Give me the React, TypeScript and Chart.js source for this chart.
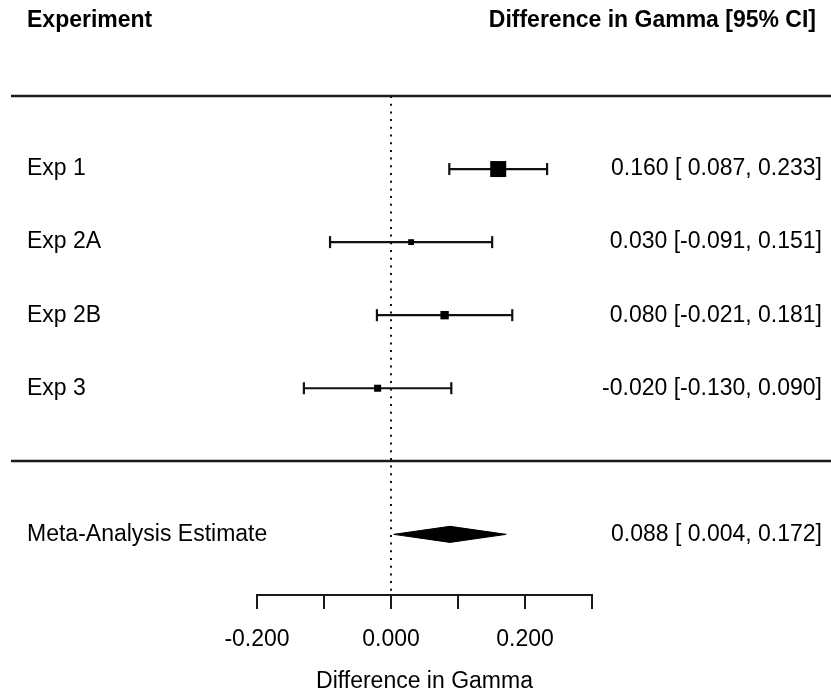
import React, { useEffect, useRef } from "react";
import { Chart, registerables } from "chart.js";

Chart.register(...registerables);

// ---------- data ----------
const STUDIES = ["Exp 1", "Exp 2A", "Exp 2B", "Exp 3"];
const ESTIMATES = [0.16, 0.03, 0.08, -0.02];
const CI_LOWER = [0.087, -0.091, -0.021, -0.13];
const CI_UPPER = [0.233, 0.151, 0.181, 0.09];
const STUDY_ROWS = [1, 2, 3, 4];

const META_LABEL = "Meta-Analysis Estimate";
const META_ESTIMATE = 0.088;
const META_LOWER = 0.004;
const META_UPPER = 0.172;
const META_ROW = 6;

const TICK_VALUES = [-0.2, -0.1, 0, 0.1, 0.2, 0.3];
const TICK_LABELS = ["-0.200", "", "0.000", "", "0.200", ""];
const AXIS_TITLE = "Difference in Gamma";
const HEADER_LEFT = "Experiment";
const HEADER_RIGHT = "Difference in Gamma [95% CI]";
const SEPARATOR_ROWS = [0, 5];

// ---------- style ----------
const FONT = '"Liberation Sans", Arial, Helvetica, sans-serif';
const FONT_SIZE = 23;
const INK = "#000";
const ROW_MAX = 6.83;
const HEADER_ROW = -1.03;
const MAX_SQUARE = 16;
const DIAMOND_HALF = 0.11;
const LEFT_TEXT_X = 27;
const RIGHT_TEXT_X = 822;
const HEADER_RIGHT_X = 816;
const LINE_START_X = 11;

function fmt(v: number) {
  return v.toFixed(3);
}
function fmtPad(v: number) {
  return (v < 0 ? "" : " ") + v.toFixed(3);
}
function ciText(est: number, lo: number, hi: number) {
  return `${fmt(est)} [${fmtPad(lo)}, ${fmt(hi)}]`;
}

const forestPlugin = {
  id: "forestText",
  beforeDatasetsDraw(chart: any) {
    const ctx = chart.ctx;
    const y = chart.scales.y;
    ctx.save();
    ctx.strokeStyle = "#1a1a1a";
    ctx.lineWidth = 2.4;
    SEPARATOR_ROWS.forEach((r) => {
      const py = Math.round(y.getPixelForValue(r));
      ctx.beginPath();
      ctx.moveTo(LINE_START_X, py);
      ctx.lineTo(chart.width, py);
      ctx.stroke();
    });
    ctx.restore();
  },
  afterDraw(chart: any) {
    const ctx = chart.ctx;
    const y = chart.scales.y;
    ctx.save();
    ctx.fillStyle = INK;
    ctx.textBaseline = "middle";
    // header
    ctx.font = `bold ${FONT_SIZE}px ${FONT}`;
    const hy = y.getPixelForValue(HEADER_ROW);
    ctx.textAlign = "left";
    ctx.fillText(HEADER_LEFT, LEFT_TEXT_X, hy);
    ctx.textAlign = "right";
    ctx.fillText(HEADER_RIGHT, HEADER_RIGHT_X, hy);
    // rows
    ctx.font = `${FONT_SIZE}px ${FONT}`;
    STUDIES.forEach((s, i) => {
      const py = y.getPixelForValue(STUDY_ROWS[i]);
      ctx.textAlign = "left";
      ctx.fillText(s, LEFT_TEXT_X, py);
      ctx.textAlign = "right";
      ctx.fillText(ciText(ESTIMATES[i], CI_LOWER[i], CI_UPPER[i]), RIGHT_TEXT_X, py);
    });
    const my = y.getPixelForValue(META_ROW);
    ctx.textAlign = "left";
    ctx.fillText(META_LABEL, LEFT_TEXT_X, my);
    ctx.textAlign = "right";
    ctx.fillText(ciText(META_ESTIMATE, META_LOWER, META_UPPER), RIGHT_TEXT_X, my);
    ctx.restore();
  },
};

export default function App() {
  const ref = useRef<HTMLCanvasElement | null>(null);

  useEffect(() => {
    document.body.style.margin = "0";
    const canvas = ref.current;
    if (!canvas) return;

    // inverse-variance weights -> square sizes
    const weights = CI_LOWER.map((lo, i) => {
      const se = (CI_UPPER[i] - lo) / (2 * 1.96);
      return 1 / (se * se);
    });
    const wMax = Math.max(...weights);
    const radii = weights.map((w) => (MAX_SQUARE * (w / wMax)) / Math.SQRT2);

    const ciDatasets = STUDIES.map((s, i) => ({
      type: "line" as const,
      label: s + " CI",
      data: [
        { x: CI_LOWER[i], y: STUDY_ROWS[i] },
        { x: CI_UPPER[i], y: STUDY_ROWS[i] },
      ],
      borderColor: "#111",
      borderWidth: 2.2,
      pointStyle: "line" as const,
      pointRotation: 90,
      pointRadius: 6,
      pointBorderWidth: 2.2,
      pointBorderColor: "#111",
      fill: false,
      order: 2,
    }));

    const chart = new Chart(canvas, {
      type: "scatter",
      data: {
        datasets: [
          {
            type: "scatter" as const,
            label: "Estimates",
            data: ESTIMATES.map((x, i) => ({ x, y: STUDY_ROWS[i] })),
            pointStyle: "rect",
            pointRadius: radii,
            backgroundColor: INK,
            borderWidth: 0,
            pointBorderWidth: 0,
            order: 1,
          } as any,
          ...ciDatasets,
          {
            type: "line" as const,
            label: "Meta",
            data: [
              { x: META_LOWER, y: META_ROW },
              { x: META_ESTIMATE, y: META_ROW - DIAMOND_HALF },
              { x: META_UPPER, y: META_ROW },
              { x: META_ESTIMATE, y: META_ROW + DIAMOND_HALF },
              { x: META_LOWER, y: META_ROW },
            ],
            borderColor: INK,
            backgroundColor: INK,
            borderWidth: 1,
            pointRadius: 0,
            fill: "shape",
            tension: 0,
            order: 1,
          } as any,
          {
            type: "line" as const,
            label: "Zero",
            data: [
              { x: 0, y: 0 },
              { x: 0, y: 6.78 },
            ],
            borderColor: "#111",
            borderWidth: 2,
            borderDash: [2, 5.7],
            pointRadius: 0,
            fill: false,
            order: 5,
          },
        ],
      },
      options: {
        animation: false,
        responsive: false,
        devicePixelRatio: 1,
        events: [],
        layout: { padding: { left: 257, right: 239, top: 96, bottom: -2 } },
        plugins: {
          legend: { display: false },
          tooltip: { enabled: false },
        },
        scales: {
          x: {
            type: "linear",
            min: -0.2,
            max: 0.3,
            afterBuildTicks: (scale: any) => {
              scale.ticks = TICK_VALUES.map((value) => ({ value }));
            },
            ticks: {
              autoSkip: false,
              maxRotation: 0,
              padding: 19,
              color: INK,
              font: { family: FONT, size: FONT_SIZE, lineHeight: 1 },
              callback: (_v: any, index: number) => TICK_LABELS[index] ?? "",
            },
            grid: {
              drawOnChartArea: false,
              drawTicks: true,
              tickLength: 14,
              color: "#1a1a1a",
              lineWidth: 2,
            },
            border: { display: true, color: "#1a1a1a", width: 2 },
            title: {
              display: true,
              text: AXIS_TITLE,
              color: INK,
              font: { family: FONT, size: FONT_SIZE, lineHeight: 1 },
              padding: { top: 0, bottom: 0 },
            },
          },
          y: {
            type: "linear",
            display: false,
            min: 0,
            max: ROW_MAX,
            reverse: true,
          },
        },
      },
      plugins: [forestPlugin],
    } as any);

    return () => chart.destroy();
  }, []);

  return (
    <canvas
      ref={ref}
      width={831}
      height={691}
      style={{ display: "block", width: 831, height: 691 }}
    />
  );
}
